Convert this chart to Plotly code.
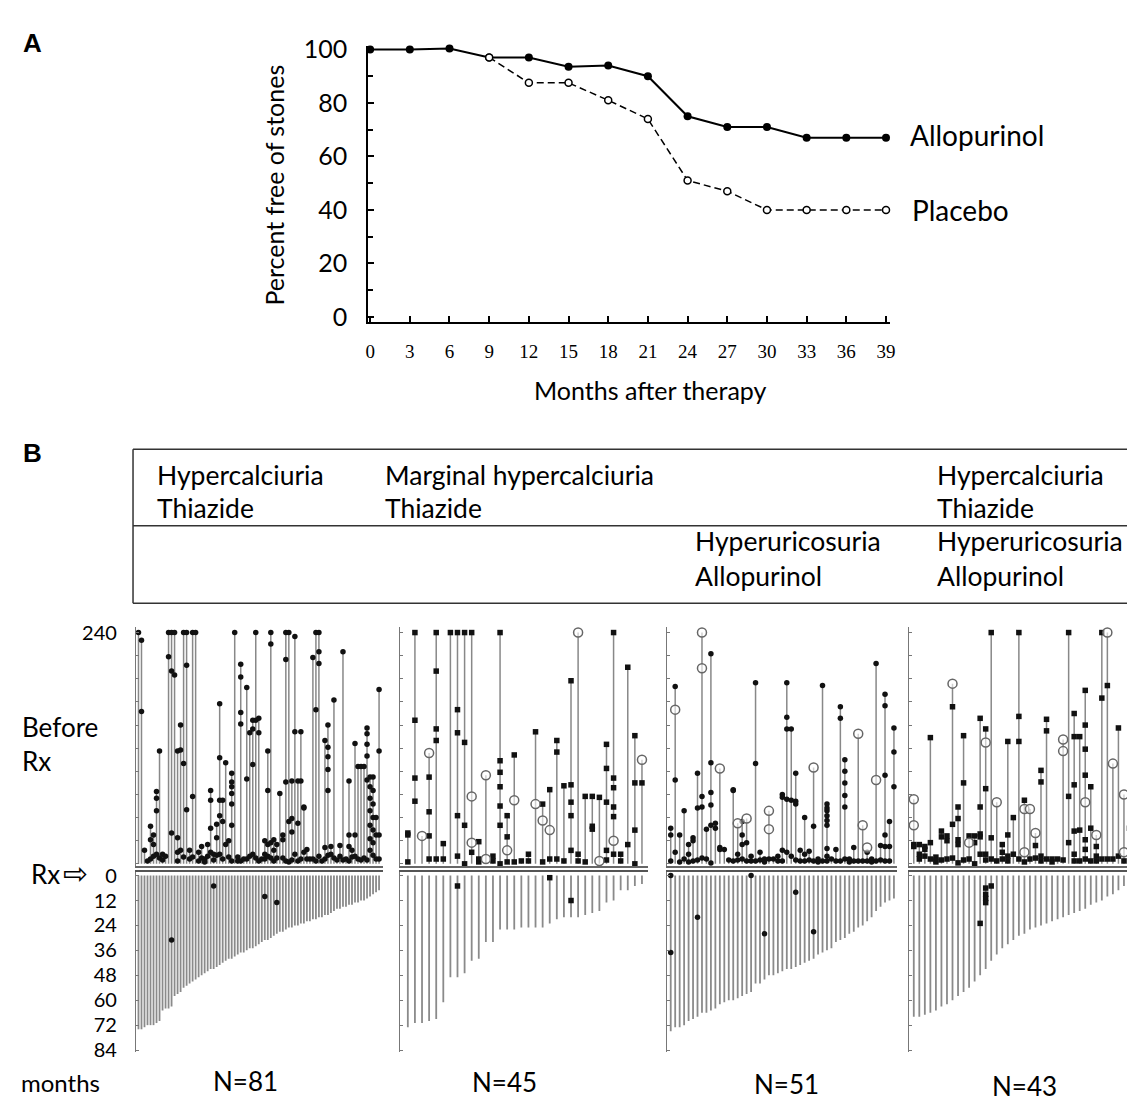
import plotly.graph_objects as go

W, H = 1135, 1103

# ---------------- Panel A data ----------------
months = [0, 3, 6, 9, 12, 15, 18, 21, 24, 27, 30, 33, 36, 39]
allopurinol = [100, 100, 100.3, 97, 97, 93.5, 94, 90, 75, 71, 71, 67, 67, 67]
placebo_months = [9, 12, 15, 18, 21, 24, 27, 30, 33, 36, 39]
placebo = [97, 87.5, 87.5, 81, 74, 51, 47, 40, 40, 40, 40]
yticks_A = [0, 20, 40, 60, 80, 100]

# ---------------- Panel B data ----------------
before_ticks = [0, 24, 48, 72, 96, 120, 144, 168, 192, 216, 240]
after_ticks = [0, 12, 24, 36, 48, 60, 72, 84]
group_n = ["N=81", "N=45", "N=51", "N=43"]

# Group 1: Hypercalciuria / Thiazide
p1_before = [240, 232, 14, 3, 39, 30, 75, 117, 10, 8,
             240, 240, 240, 117, 144, 240, 240, 14, 240, 240,
             12, 18, 5, 20, 76, 10, 41, 166, 66, 105,
             24, 94, 240, 7, 207, 5, 183, 136, 149, 240,
             151, 5, 24, 117, 240, 25, 20, 73, 30, 240,
             240, 86, 236, 86, 137, 59, 15, 5, 214, 240,
             240, 3, 128, 144, 18, 170, 4, 19, 220, 5,
             86, 14, 125, 101, 101, 101, 141, 90, 90, 48,
             181]
p1_stones = [[240], [232, 158], [14], [3], [39, 25, 5], [30, 20, 8], [75, 68, 55, 10], [117, 6], [10, 4], [8],
             [240, 215], [240, 200, 32], [240, 196], [117, 27, 12, 3], [144, 118, 14], [240, 104, 7], [240, 206, 56], [14, 5], [240, 70, 7], [240],
             [12, 3], [18, 6], [5, 2], [20, 8], [76, 66, 37, 12], [10, 4], [41, 27, 9], [166, 110, 66, 50, 10], [66, 44, 5], [105, 20],
             [24, 7], [94, 85, 80, 73, 62, 40, 3], [240], [7, 3], [207, 194, 157, 145, 3], [5], [183, 88, 5], [136, 8], [149, 140, 103, 10], [240, 149, 6],
             [151, 136, 3], [5], [24, 10, 5], [117, 76, 20, 8], [240, 228, 22, 6], [25, 14, 3], [20, 6], [73], [30, 25, 6], [240, 212, 85, 3],
             [240, 44, 2], [86, 47, 33, 4], [236, 137, 10], [86, 42, 3], [137, 86, 5], [59, 58, 12], [15, 5], [5], [214, 5], [240, 160, 3],
             [240, 220, 208, 8], [3], [128, 17, 5], [144, 121, 111, 98, 76, 9], [18, 10], [170, 6], [4], [19, 8], [220, 4], [5],
             [86, 30, 18, 3], [14, 7], [125, 30, 8], [101, 5], [101, 4], [101, 6], [141, 135, 124, 112, 87, 4], [90, 80, 68, 55, 40, 26, 14], [90, 76, 62, 48, 35, 22, 9], [48, 30, 5],
             [181, 117, 30, 5]]
p1_after = [74, 74, 73, 72, 72, 72, 71, 70, 65, 64, 64, 63, 58, 57, 56, 54, 53, 52, 51, 50,
            49, 48, 47, 46, 45, 45, 44, 43, 42, 41, 40, 40, 39, 38, 37, 37, 36, 35, 35, 34,
            33, 32, 31, 31, 30, 29, 28, 27, 27, 26, 25, 25, 24, 24, 23, 23, 22, 22, 21, 21,
            20, 20, 19, 19, 18, 17, 16, 16, 15, 15, 14, 14, 13, 13, 12, 12, 11, 10, 9, 8,
            7]
p1_open_idx, p1_open_month = [], []
p1_after_idx = [11, 25, 42, 46]
p1_after_month = [31, 5, 10, 13]

# Group 2: Marginal hypercalciuria / Thiazide
p2_before = [32, 240, 29, 115, 240, 21, 240, 240, 240, 240, 23, 92, 8, 240, 50, 113, 3, 10, 137, 62,
             77, 128, 81, 190, 240, 70, 70, 69, 124, 240, 10, 204, 133, 108]
p2_stones = [[32, 30, 2], [240, 149, 89, 65], [], [90, 54, 29, 5], [240, 200, 140, 128, 5], [21, 5], [240],
             [240, 160, 136, 50, 8], [240, 126, 40, 0], [240, 12], [23, 5, 2], [], [8, 3],
             [240, 107, 95, 80, 60, 40, 0], [50, 28, 2], [113, 2], [3], [10, 3], [137], [62, 2], [77, 5],
             [128, 116, 5], [81, 3], [190, 82, 64, 50, 14], [10, 3], [70, 2], [70, 39, 36], [69],
             [124, 99, 64, 14, 4], [240, 89, 79, 59, 49, 10], [10, 3], [204, 20], [133, 84, 35, 0], [84]]
p2_open_idx = [2, 3, 9, 9, 11, 11, 14, 15, 18, 19, 20, 24, 27, 29, 33]
p2_open_month = [29, 115, 70, 22, 92, 5, 14, 66, 62, 45, 35, 240, 3, 24, 108]
p2_after = [73, 71, 71, 70, 69, 61, 49, 49, 47, 41, 40, 32, 32, 26, 26, 26, 25, 25, 25, 25,
            23, 21, 20, 20, 20, 19, 18, 17, 13, 12, 7, 7, 5, 4]
p2_after_idx = [7, 20, 23]
p2_after_month = [5, 1, 12]

# Group 3: Hyperuricosuria / Allopurinol
p3_before = [37, 184, 30, 55, 20, 27, 94, 240, 36, 218, 42, 99, 15, 4, 77, 42, 44, 47, 8, 188,
             12, 5, 55, 5, 8, 72, 188, 140, 94, 14, 48, 13, 100, 5, 185, 62, 5, 15, 163, 108,
             5, 17, 135, 40, 12, 5, 208, 19, 176, 44, 141]
p3_stones = [[37, 30, 3], [184, 87, 12], [30, 2], [55, 5], [20, 10, 2], [27, 24, 3], [94, 58, 4], [70, 59, 6],
             [36, 5], [218, 105, 74, 61, 40, 1], [42, 37], [17, 15], [15], [4], [77, 76, 3], [10, 4],
             [44, 30, 20, 5], [22, 3], [8, 3], [188, 104, 3], [12, 4], [5, 2], [5], [5], [8, 3],
             [72, 69, 14, 3], [188, 152, 140, 67, 12], [140, 66, 8], [94, 65, 62, 4], [14, 3], [48, 10, 3],
             [13, 4], [39, 3], [5, 2], [185, 3], [62, 58, 55, 50, 45, 40, 16, 8, 3], [5], [15, 3],
             [163, 151, 3], [108, 96, 84, 71, 59, 5], [5, 2], [17, 3], [3], [3], [12, 3], [5, 2],
             [208, 3], [19, 4], [176, 164, 92, 30, 18, 3], [44, 18, 3], [141, 116, 80]]
p3_open_idx = [1, 7, 7, 11, 15, 17, 22, 22, 32, 42, 43, 44, 46]
p3_open_month = [160, 240, 203, 99, 42, 47, 55, 36, 100, 135, 40, 17, 87]
p3_after = [75, 73, 73, 72, 70, 69, 68, 66, 66, 65, 64, 62, 61, 60, 60, 59, 58, 57, 56, 52,
            52, 50, 48, 48, 47, 46, 45, 45, 44, 43, 42, 41, 40, 38, 37, 36, 35, 32, 31, 30,
            28, 27, 25, 24, 22, 20, 17, 15, 13, 12, 11]
p3_after_idx = [0, 0, 6, 18, 21, 28, 32]
p3_after_month = [0, 37, 20, 0, 28, 8, 27]

# Group 4: Hypercalciuria + Hyperuricosuria / Thiazide + Allopurinol
p4_before = [67, 20, 18, 131, 7, 34, 29, 187, 59, 133, 29, 29, 151, 140, 240, 64, 20, 127, 48, 240,
             66, 57, 32, 97, 150, 5, 5, 129, 240, 156, 132, 180, 80, 30, 240, 240, 104, 141, 72, 37,
             240]
p4_stones = [[20, 18], [20, 10, 5], [18, 15, 8], [131, 22, 5], [7, 4, 2], [34, 28, 4], [29, 24, 5],
             [163, 41, 6], [59, 47, 25, 20, 1], [133, 84, 4], [29, 5], [29, 22, 0], [151, 59, 31, 28, 10],
             [140, 78, 10, 4], [240, 27, 5], [3], [20, 12, 5], [127, 30, 8, 3], [48, 10], [240, 153, 127, 5],
             [66, 2], [5], [19, 6], [97, 85, 8, 3], [150, 138, 5], [5, 2], [5], [4], [240, 70, 22],
             [156, 132, 82, 34, 10, 3], [132, 35, 3], [180, 144, 119, 92, 25, 15, 5], [80, 37, 3],
             [18, 8, 3], [240, 172, 5], [185, 5], [5], [141, 8], [3], [37, 3], [240, 30]]
p4_open_idx = [0, 0, 7, 10, 13, 15, 20, 20, 21, 22, 27, 27, 31, 33, 35, 36, 38, 38]
p4_open_month = [67, 40, 187, 22, 126, 64, 57, 12, 57, 32, 129, 117, 64, 30, 240, 104, 72, 12]
p4_after = [68, 68, 67, 66, 65, 63, 62, 60, 58, 56, 54, 51, 48, 45, 41, 38, 35, 33, 31, 29,
            28, 26, 25, 24, 23, 22, 21, 20, 19, 18, 17, 16, 14, 13, 12, 10, 9, 7, 5, 3, 2]
p4_after_idx = [12, 13, 13, 13, 13, 14]
p4_after_month = [23, 6, 9, 11, 13, 5]

groups = [
    (p1_before, p1_stones, p1_open_idx, p1_open_month, p1_after, p1_after_idx, p1_after_month),
    (p2_before, p2_stones, p2_open_idx, p2_open_month, p2_after, p2_after_idx, p2_after_month),
    (p3_before, p3_stones, p3_open_idx, p3_open_month, p3_after, p3_after_idx, p3_after_month),
    (p4_before, p4_stones, p4_open_idx, p4_open_month, p4_after, p4_after_idx, p4_after_month),
]

# ---------------- layout helpers (pixel geometry) ----------------
FONT = "Lato, 'Open Sans', sans-serif"


def lin(pa, va, pb, vb):
    k = (vb - va) / (pb - pa)
    return lambda p: va + (p - pa) * k


def px(p):
    return p / W


def py(p):
    return 1 - p / H


fig = go.Figure()
layout = dict(width=W, height=H, margin=dict(l=0, r=0, t=0, b=0),
              paper_bgcolor="white", plot_bgcolor="rgba(0,0,0,0)", showlegend=False,
              font=dict(family=FONT, color="black"))

# ---------------- Panel A ----------------
fxA = lin(362, 0, 882, 39)
fyA = lin(302, 0, 29, 100)
fig.add_trace(go.Scatter(x=months, y=allopurinol, mode="lines+markers", xaxis="x", yaxis="y",
                         line=dict(color="black", width=2),
                         marker=dict(symbol="circle", size=8, color="black"), cliponaxis=False))
fig.add_trace(go.Scatter(x=placebo_months, y=placebo, mode="lines+markers", xaxis="x", yaxis="y",
                         line=dict(color="black", width=1.5, dash="7px,4px"),
                         marker=dict(symbol="circle", size=7, color="white",
                                     line=dict(color="black", width=1.5)), cliponaxis=False))
layout["xaxis"] = dict(domain=[px(360), px(886)], range=[fxA(360), fxA(886)], anchor="y",
                       tickvals=months, ticks="inside", ticklen=6, tickwidth=1.5, tickcolor="black",
                       showline=True, linecolor="black", linewidth=2, showgrid=False, zeroline=False,
                       tickfont=dict(family="Liberation Serif", size=19), ticklabelstandoff=11)
layout["yaxis"] = dict(domain=[py(307), py(26)], range=[fyA(307), fyA(26)], anchor="x",
                       tickvals=yticks_A, ticks="inside", ticklen=6, tickwidth=1.5, tickcolor="black",
                       minor=dict(dtick=10, ticks="inside", ticklen=5, tickcolor="black", tickwidth=1.5),
                       showline=True, linecolor="black", linewidth=2, showgrid=False, zeroline=False,
                       tickfont=dict(family=FONT, size=25), ticklabelstandoff=14)

annotations = []


def add_text(text, x, y, size, xanchor="left", yanchor="middle", angle=0, family=FONT, bold=False):
    if bold:
        text = "<b>" + text + "</b>"
    annotations.append(dict(text=text, x=px(x), y=py(y), xref="paper", yref="paper",
                            xanchor=xanchor, yanchor=yanchor, showarrow=False, textangle=angle,
                            font=dict(family=family, size=size, color="black")))


add_text("A", 10, 22, 26, family="Liberation Sans", bold=True)
add_text("B", 10, 441, 26, family="Liberation Sans", bold=True)
add_text("Percent free of stones", 265, 167, 25, xanchor="center", angle=-90)
add_text("Months after therapy", 645, 376, 25, xanchor="center")
add_text("Allopurinol", 904, 116, 28)
add_text("Placebo", 906, 193, 28)

# ---------------- Panel B: table ----------------
shapes = []
for yy in (437, 515, 594):
    shapes.append(dict(type="line", xref="paper", yref="paper", x0=px(123), x1=px(1135),
                       y0=py(yy), y1=py(yy), line=dict(color="#333", width=1.5)))
shapes.append(dict(type="line", xref="paper", yref="paper", x0=px(123), x1=px(123),
                   y0=py(437), y1=py(594), line=dict(color="#333", width=1.5)))
table_text = [("Hypercalciuria", 145, 463), ("Thiazide", 145, 497),
              ("Marginal hypercalciuria", 375, 463), ("Thiazide", 375, 497),
              ("Hyperuricosuria", 687, 531), ("Allopurinol", 687, 566),
              ("Hypercalciuria", 931, 463), ("Thiazide", 931, 497),
              ("Hyperuricosuria", 931, 531), ("Allopurinol", 931, 566)]
for t, x, y in table_text:
    add_text(t, x, y, 26.5)

# ---------------- Panel B: event charts ----------------
PANELS = [(126, 128.5, 371, 375), (392, 400, 636, 642), (661, 665, 890, 893), (905, 910, 1133, 1135)]
N_POS = [(236, 1082), (497, 1083), (782, 1085), (1022, 1087)]
FILLED_SYMBOL = ["circle", "square", "circle", "square"]
fyU = lin(860, 0, 624, 240)
fyL = lin(872, 0, 1050, 84)

for k, (before, stones, oidx, omon, after, aidx, amon) in enumerate(groups):
    ax_px, first_px, last_px, right_px = PANELS[k]
    n = len(before)
    fxB = lin(first_px, 0, last_px, n - 1)
    xu, yu, xl, yl = f"x{2+k}", f"y{2+k}", f"x{6+k}", f"y{6+k}"

    # upper vertical lines (history before Rx)
    lx, ly = [], []
    for i, h in enumerate(before):
        lx += [i, i, None]
        ly += [0, h, None]
    fig.add_trace(go.Scatter(x=lx, y=ly, mode="lines", xaxis=xu, yaxis=yu,
                             line=dict(color="#888888", width=1.5), hoverinfo="skip"))
    # lower vertical lines (follow-up after Rx)
    lx, ly = [], []
    for i, f in enumerate(after):
        lx += [i, i, None]
        ly += [0, f, None]
    fig.add_trace(go.Scatter(x=lx, y=ly, mode="lines", xaxis=xl, yaxis=yl,
                             line=dict(color="#8a8a8a", width=1.8), hoverinfo="skip"))
    # stone events before Rx
    sx, sy = [], []
    for i, evs in enumerate(stones):
        for m in evs:
            sx.append(i)
            sy.append(m)
    fig.add_trace(go.Scatter(x=sx, y=sy, mode="markers", xaxis=xu, yaxis=yu, cliponaxis=False,
                             marker=dict(symbol=FILLED_SYMBOL[k], size=5.5, color="#111")))
    if oidx:
        fig.add_trace(go.Scatter(x=oidx, y=omon, mode="markers", xaxis=xu, yaxis=yu, cliponaxis=False,
                                 marker=dict(symbol="circle", size=9, color="rgba(255,255,255,0.6)",
                                             line=dict(color="#666", width=1.5))))
    # stone events after Rx
    fig.add_trace(go.Scatter(x=aidx, y=amon, mode="markers", xaxis=xl, yaxis=yl, cliponaxis=False,
                             marker=dict(symbol=FILLED_SYMBOL[k], size=5.5, color="#111")))

    xr = [fxB(ax_px), fxB(right_px)]
    dom = [px(ax_px), px(right_px)]
    layout[f"xaxis{2+k}"] = dict(domain=dom, range=xr, anchor=yu, showline=True, linecolor="#666",
                                 linewidth=1.5, showticklabels=False, ticks="", showgrid=False,
                                 zeroline=False)
    layout[f"xaxis{6+k}"] = dict(domain=dom, range=xr, anchor=yl, side="top", showline=True,
                                 linecolor="#555", linewidth=2, showticklabels=False, ticks="",
                                 showgrid=False, zeroline=False)
    layout[f"yaxis{2+k}"] = dict(domain=[py(862), py(618)], range=[fyU(862), fyU(618)], anchor=xu,
                                 showline=True, linecolor="#777", linewidth=1.2, ticks="inside",
                                 ticklen=3, tickcolor="#777", tickvals=before_ticks,
                                 ticktext=["" for _ in before_ticks[:-1]] + [str(before_ticks[-1])],
                                 showticklabels=(k == 0), tickfont=dict(family=FONT, size=20),
                                 ticklabelstandoff=14, showgrid=False, zeroline=False)
    layout[f"yaxis{6+k}"] = dict(domain=[py(1052), py(868)], range=[fyL(1052), fyL(868)], anchor=xl,
                                 showline=True, linecolor="#777", linewidth=1.2, ticks="inside",
                                 ticklen=3, tickcolor="#777", tickvals=after_ticks,
                                 showticklabels=(k == 0), tickfont=dict(family=FONT, size=20),
                                 ticklabelstandoff=14, showgrid=False, zeroline=False)
    add_text(group_n[k], N_POS[k][0], N_POS[k][1], 26, xanchor="center")

add_text("Before", 9, 720, 26)
add_text("Rx", 9, 755, 26)
add_text("Rx", 18, 870, 26)
add_text("\u21e8", 50, 870, 30, family="'DejaVu Sans', sans-serif")
add_text("months", 8, 1083, 24)

layout["annotations"] = annotations
layout["shapes"] = shapes
fig.update_layout(**layout)
fig.write_html("out.html")
